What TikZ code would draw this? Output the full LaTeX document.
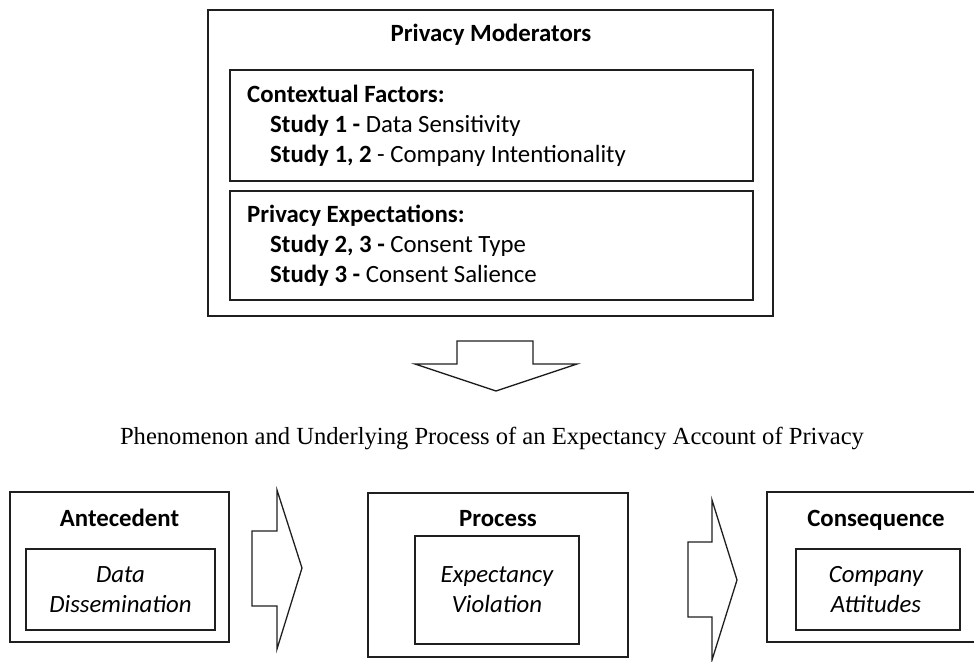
\documentclass[tikz,border=0pt]{standalone}
\usepackage{fontspec}
\setmainfont{Carlito}
\newfontfamily\capfont{Liberation Serif}
\begin{document}
\begin{tikzpicture}[x=1pt,y=-1pt,
  box/.style={draw=black!88, line width=1.3pt, inner sep=0pt},
  txt/.style={inner sep=0pt, font=\fontsize{24.8}{30}\selectfont},
  blk/.style={draw=black!88, line width=1.3pt, line join=miter}]
\useasboundingbox (0,0) rectangle (974,661);
\clip (0,0) rectangle (974,661);
% ---- Privacy moderators ----
\node[box, minimum width=565, minimum height=306] (mod) at (490.5,163) {};
\node[txt, anchor=base] (modt) at (491,42) {\textbf{Privacy Moderators}};
\node[box, minimum width=523, minimum height=111] (ctx) at (491.5,125.5) {};
\node[box, minimum width=523, minimum height=109] (exp) at (491.5,245.5) {};
\node[txt, anchor=base west] (ctxh) at (247,102) {\textbf{Contextual Factors:}};
\node[txt, anchor=base west] (ctx1) at (270,132) {\textbf{Study 1 -} Data Sensitivity};
\node[txt, anchor=base west] (ctx2) at (270,162) {\textbf{Study 1, 2} - Company Intentionality};
\node[txt, anchor=base west] (exph) at (247,222) {\textbf{Privacy Expectations:}};
\node[txt, anchor=base west] (exp1) at (270,252) {\textbf{Study 2, 3 -} Consent Type};
\node[txt, anchor=base west] (exp2) at (270,282) {\textbf{Study 3 -} Consent Salience};
% ---- down arrow ----
\draw[blk] (457,341) -- (533,341) -- (533,364) -- (577,364) -- (496,391) -- (415,364) -- (457,364) -- cycle;
% ---- caption ----
\node[inner sep=0pt, anchor=base, font=\capfont\fontsize{24.6}{29}\selectfont] (cap) at (492,444)
  {Phenomenon and Underlying Process of an Expectancy Account of Privacy};
% ---- Antecedent ----
\node[box, minimum width=219, minimum height=150] (ant) at (119.5,567) {};
\node[box, minimum width=189, minimum height=81] (anti) at (120.5,589.5) {};
\node[txt, anchor=base] (antt) at (119.5,526) {\textbf{Antecedent}};
\node[txt, anchor=base] (anta) at (120.5,582) {\itshape Data};
\node[txt, anchor=base] (antb) at (120.5,612) {\itshape Dissemination};
% ---- arrow 1 ----
\draw[blk] (252,531) -- (277,531) -- (277,490) -- (302,568) -- (277,649) -- (277,606) -- (252,606) -- cycle;
% ---- Process ----
\node[box, minimum width=260, minimum height=164] (pro) at (498,575) {};
\node[box, minimum width=164, minimum height=108] (proi) at (497,590) {};
\node[txt, anchor=base] (prot) at (498,526) {\textbf{Process}};
\node[txt, anchor=base] (proa) at (497,582) {\itshape Expectancy};
\node[txt, anchor=base] (prob) at (497,612) {\itshape Violation};
% ---- arrow 2 ----
\draw[blk] (688,542) -- (712,542) -- (712,500) -- (737,580) -- (712,660) -- (712,617) -- (688,617) -- cycle;
% ---- Consequence ----
\node[box, minimum width=222, minimum height=150] (con) at (878,567) {};
\node[box, minimum width=164, minimum height=81] (coni) at (878,589.5) {};
\node[txt, anchor=base] (cont) at (876,526) {\textbf{Consequence}};
\node[txt, anchor=base] (cona) at (876,582) {\itshape Company};
\node[txt, anchor=base] (conb) at (876,612) {\itshape Attitudes};
\end{tikzpicture}
\end{document}
